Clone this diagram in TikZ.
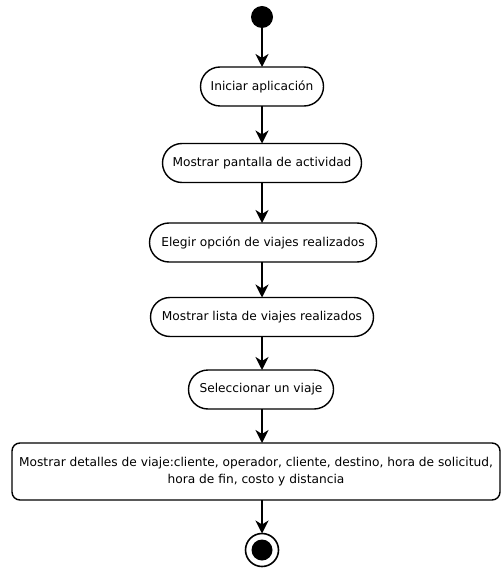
\documentclass[tikz,border=0pt]{standalone}
\usepackage{fontspec}
\setmainfont{DejaVu Sans}
\usetikzlibrary{arrows.meta,shapes.misc}
\begin{document}
\begin{tikzpicture}[x=1pt,y=-1pt,
  every node/.style={font=\fontsize{12.2}{17}\selectfont, inner sep=0pt, outer sep=0pt},
  action/.style={draw, line width=1.4pt, rounded rectangle, align=center, minimum height=39pt},
  detail/.style={draw, line width=1.4pt, rounded corners=8pt, align=center},
  flow/.style={line width=1.8pt, -{Stealth[length=13pt,width=13pt,inset=4pt]}},
  startstate/.style={circle, fill=black, minimum size=22pt},
]
\useasboundingbox (0,0) rectangle (502,569);
\node[startstate] (ini) at (262,17) {};
\node[action, minimum width=123pt] (a1) at (262,86.5) {Iniciar aplicación};
\node[action, minimum width=199pt] (a2) at (262,163) {Mostrar pantalla de actividad};
\node[action, minimum width=227pt] (a3) at (263,242.5) {Elegir opción de viajes realizados};
\node[action, minimum width=223pt] (a4) at (262,317) {Mostrar lista de viajes realizados};
\node[action, minimum width=145pt] (a5) at (261,389.5) {Seleccionar un viaje};
\node[detail, minimum width=488pt, minimum height=57pt] (a6) at (256,471.5)
  {Mostrar detalles de viaje:cliente, operador, cliente, destino, hora de solicitud,\\hora de fin, costo y distancia};
\node[circle, draw, line width=1.6pt, minimum size=33pt] (fin) at (262,550) {};
\node[circle, fill=black, minimum size=21pt] (finDot) at (fin) {};
\draw[flow] (ini) -- (ini |- a1.north);
\draw[flow] (a1.south -| ini) -- (ini |- a2.north);
\draw[flow] (a2.south -| ini) -- (ini |- a3.north);
\draw[flow] (a3.south -| ini) -- (ini |- a4.north);
\draw[flow] (a4.south -| ini) -- (ini |- a5.north);
\draw[flow] (a5.south -| ini) -- (ini |- a6.north);
\draw[flow] (a6.south -| ini) -- (fin.north);
\end{tikzpicture}
\end{document}
